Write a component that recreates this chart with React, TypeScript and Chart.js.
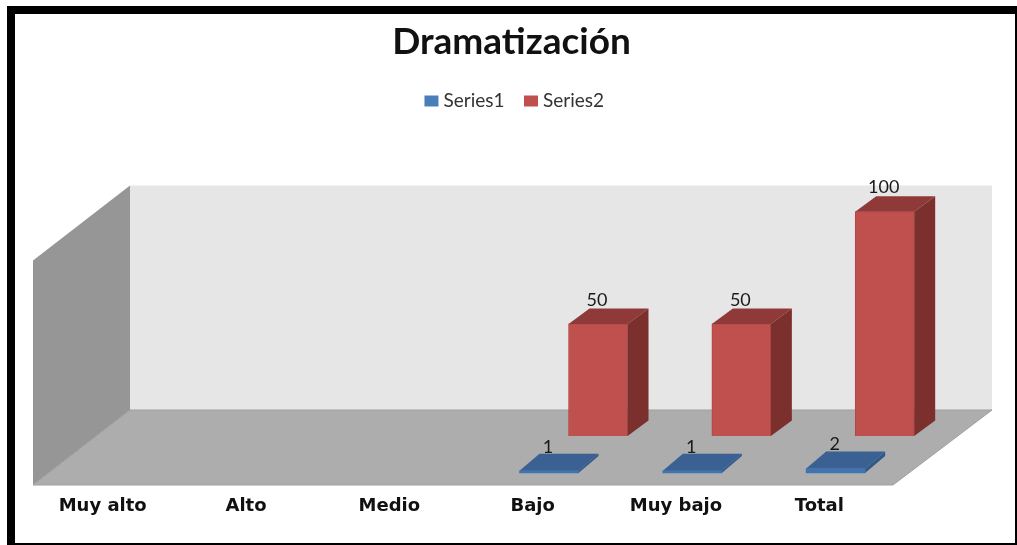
import React, { useEffect, useRef } from "react";
import { Chart, registerables } from "chart.js";

Chart.register(...registerables);

const categories = ["Muy alto", "Alto", "Medio", "Bajo", "Muy bajo", "Total"];
const series1Values = [null, null, null, 1, 1, 2];
const series2Values = [null, null, null, 50, 50, 100];
const seriesNames = ["Series1", "Series2"];
const legendColors = ["#4a7ebb", "#c0504d"];

const PX_PER_UNIT = 2.25;
const AREA_TOP = 119.5;

const faces: any = {
  0: { dx: 20, dy: -17, top: "#3a6191", side: "#315a8a" },
  1: { dx: 21, dy: -15.5, top: "#8f3a38", side: "#7b302e" },
};

const poly = (ctx: any, pts: number[][], fill: string, stroke?: string) => {
  ctx.beginPath();
  pts.forEach(([x, y], i) => (i ? ctx.lineTo(x, y) : ctx.moveTo(x, y)));
  ctx.closePath();
  ctx.fillStyle = fill;
  ctx.fill();
  if (stroke) {
    ctx.strokeStyle = stroke;
    ctx.lineWidth = 1;
    ctx.stroke();
  }
};

const scene3d = {
  id: "scene3d",
  afterLayout(chart: any) {
    chart.legend.left += 10;
  },
  beforeDraw(chart: any) {
    const { ctx, width, height } = chart;
    ctx.save();
    ctx.fillStyle = "#ffffff";
    ctx.fillRect(0, 0, width, height);
    ctx.fillStyle = "#000000";
    ctx.fillRect(7, 6, width - 7, 8);
    ctx.fillRect(7, 6, 8, height - 6);
    ctx.fillRect(1015, 6, 2, height - 6);
    ctx.fillRect(7, 543, width - 7, 2);
    ctx.restore();
  },
  beforeDatasetsDraw(chart: any) {
    const { ctx, chartArea, scales } = chart;
    const l = chartArea.left;
    const r = chartArea.right;
    const b = chartArea.bottom;
    const h = scales.y1.getPixelForValue(0) - scales.y1.getPixelForValue(100);
    const dx = 97;
    const dy = -75;
    ctx.save();
    poly(ctx, [[l + dx, b + dy - h], [r + dx + 2, b + dy - h], [r + dx + 2, b + dy], [l + dx, b + dy]], "#e6e6e6");
    poly(ctx, [[l, b - h], [l + dx, b + dy - h], [l + dx, b + dy], [l, b]], "#969696");
    poly(ctx, [[l, b], [l + dx, b + dy], [r + dx + 2, b + dy], [r, b]], "#adadad", "#a0a0a0");
    ctx.restore();
  },
  afterDatasetDraw(chart: any, args: any) {
    const { ctx } = chart;
    const f = faces[args.index];
    ctx.save();
    args.meta.data.forEach((bar: any, i: number) => {
      const v = chart.data.datasets[args.index].data[i].y;
      if (v == null) return;
      const { x, y, base, width } = bar.getProps(["x", "y", "base", "width"], true);
      const left = x - width / 2;
      const right = x + width / 2;
      poly(ctx, [[left, y], [left + f.dx, y + f.dy], [right + f.dx, y + f.dy], [right, y]], f.top);
      poly(ctx, [[right, y], [right + f.dx, y + f.dy], [right + f.dx, base + f.dy], [right, base]], f.side);
    });
    ctx.restore();
  },
  afterDatasetsDraw(chart: any) {
    const { ctx } = chart;
    ctx.save();
    ctx.font = '18px "Lato"';
    ctx.fillStyle = "#1a1a1a";
    ctx.textAlign = "center";
    ctx.textBaseline = "middle";
    chart.data.datasets.forEach((ds: any, d: number) => {
      chart.getDatasetMeta(d).data.forEach((bar: any, i: number) => {
        const v = ds.data[i].y;
        if (v == null) return;
        const { x, y } = bar.getProps(["x", "y"], true);
        ctx.fillText(String(v), x - 1, y - 24);
      });
    });
    ctx.restore();
  },
};

export default function App() {
  const ref = useRef<HTMLCanvasElement>(null);
  useEffect(() => {
    document.body.style.margin = "0";
    const chart = new Chart(ref.current as HTMLCanvasElement, {
      type: "bar",
      data: {
        labels: categories,
        datasets: [
          {
            label: seriesNames[0],
            data: series1Values.map((y, x) => ({ x, y })) as any,
            xAxisID: "x1",
            yAxisID: "y1",
            backgroundColor: "#3f74b3",
            borderWidth: 0,
            barThickness: 59,
            grouped: false,
            clip: false,
          },
          {
            label: seriesNames[1],
            data: series2Values.map((y, x) => ({ x, y })) as any,
            xAxisID: "x2",
            yAxisID: "y2",
            backgroundColor: "#c0504d",
            borderColor: "#b04845",
            borderWidth: 1,
            barThickness: 59,
            grouped: false,
            clip: false,
          },
        ],
      },
      options: {
        animation: false,
        responsive: false,
        layout: { padding: { left: 6, right: 0, top: 0, bottom: 0 } },
        plugins: {
          title: {
            display: true,
            text: "Dramatización",
            color: "#111111",
            font: { family: '"Lato"', size: 37, weight: "bold" },
            padding: { top: 20, bottom: 3 },
          },
          legend: {
            display: true,
            position: "top",
            labels: {
              boxWidth: 5,
              boxHeight: 2,
              padding: 24,
              color: "#333333",
              font: { family: '"Lato"', size: 19 },
              generateLabels: () =>
                seriesNames.map((text, i) => ({
                  text,
                  fillStyle: legendColors[i],
                  strokeStyle: legendColors[i],
                  lineWidth: 9,
                  hidden: false,
                  datasetIndex: i,
                  fontColor: "#333333",
                })),
            },
          },
          tooltip: { enabled: false },
        },
        scales: {
          x: {
            type: "category",
            position: "bottom",
            grid: { display: false },
            border: { display: false },
            ticks: {
              color: "#111111",
              font: { family: '"DejaVu Sans"', size: 18, weight: "bold" },
              maxRotation: 0,
              autoSkip: false,
              padding: 3,
              labelOffset: -2,
            },
            afterFit(s: any) {
              s.height = 60;
            },
          },
          x1: { type: "linear", display: false, offset: false, position: "bottom", min: -0.6, max: 5.4 },
          x2: { type: "linear", display: false, offset: false, position: "bottom", min: -0.942, max: 5.058 },
          y1: {
            type: "linear",
            position: "left",
            min: -12 / PX_PER_UNIT,
            max: (473 - AREA_TOP) / PX_PER_UNIT,
            grid: { display: false },
            border: { display: false },
            ticks: { display: false },
            afterFit(s: any) {
              s.width = 27;
            },
          },
          y2: {
            type: "linear",
            position: "right",
            min: -49 / PX_PER_UNIT,
            max: (436 - AREA_TOP) / PX_PER_UNIT,
            grid: { display: false },
            border: { display: false },
            ticks: { display: false },
            afterFit(s: any) {
              s.width = 124;
            },
          },
        },
      } as any,
      plugins: [scene3d],
    });
    return () => chart.destroy();
  }, []);
  return <canvas ref={ref} width={1017} height={545} style={{ display: "block" }} />;
}
